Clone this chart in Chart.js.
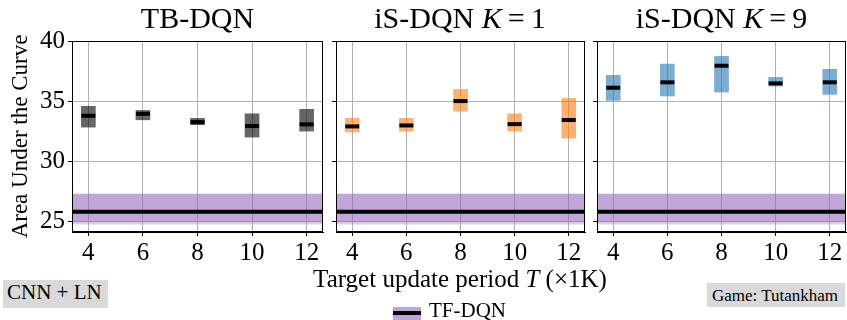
<!DOCTYPE html>
<html><head><meta charset="utf-8">
<script src="https://cdn.jsdelivr.net/npm/chart.js@4/dist/chart.umd.min.js"></script>
<style>
html,body{margin:0;padding:0;background:#fff;width:847px;height:320px;overflow:hidden;font-family:"Liberation Serif","Times New Roman",serif;color:#000;}
.panel{position:absolute;top:0;height:270px;}
.ttl{position:absolute;top:3px;font-size:30px;line-height:30px;white-space:nowrap;transform:translateX(-50%);}
.xl{position:absolute;left:460px;top:266px;font-size:25px;line-height:25px;white-space:nowrap;transform:translateX(-50%);}
.box{position:absolute;background:#d9d9d9;}
.box span{position:absolute;white-space:nowrap;}
</style></head><body>
<div class="panel" style="left:0;width:326px"><canvas id="c1"></canvas></div>
<div class="panel" style="left:329px;width:259px"><canvas id="c2"></canvas></div>
<div class="panel" style="left:590px;width:257px"><canvas id="c3"></canvas></div>
<div class="ttl" style="left:197.5px">TB-DQN</div>
<div class="ttl" style="left:460px">iS-DQN <i>K</i>&#8201;=&#8201;1</div>
<div class="ttl" style="left:721.5px">iS-DQN <i>K</i>&#8201;=&#8201;9</div>
<div class="xl">Target update period <i>T</i> (×1K)</div>
<div style="position:absolute;left:393px;top:307px;width:28px;height:13px;background:#bfa4d7;"><div style="position:absolute;left:0;top:3.7px;width:28px;height:4px;background:#000;"></div></div>
<div style="position:absolute;left:429px;top:299.5px;font-size:21px;line-height:21px;white-space:nowrap;">TF-DQN</div>
<div class="box" style="left:3px;top:280px;width:105px;height:28px;"><span style="left:4px;top:1.5px;font-size:21px;line-height:21px;">CNN + LN</span></div>
<div class="box" style="left:707px;top:283px;width:138px;height:24px;"><span style="left:5px;top:3.8px;font-size:17px;line-height:17px;">Game: Tutankham</span></div>
<script>
// ---- data ----
const categories = [4, 6, 8, 10, 12];
const xTicks = [4, 6, 8, 10, 12];
const yTicks = [25, 30, 35, 40];
const xMin = 3.4, xMax = 12.6, yMin = 24.1, yMax = 40;

const tbLow  = [32.83, 33.44, 33.03, 32.00, 32.50];
const tbHigh = [34.56, 34.22, 33.56, 33.94, 34.31];
const tbMed  = [33.78, 33.94, 33.25, 32.92, 33.06];

const k1Low  = [32.42, 32.50, 34.17, 32.50, 31.92];
const k1High = [33.56, 33.56, 35.97, 33.94, 35.22];
const k1Med  = [32.89, 32.97, 35.00, 33.08, 33.42];

const k9Low  = [35.06, 35.42, 35.75, 36.25, 35.56];
const k9High = [37.14, 38.08, 38.72, 36.97, 37.64];
const k9Med  = [36.11, 36.56, 37.94, 36.47, 36.56];

const tfMean = 25.78;
const tfHigh = 27.28;
const tfLowInner = 24.95;
const tfLow = 24.72;

const FONT = "'Liberation Serif', 'Times New Roman', serif";

const framePlugin = {
  id: 'frame',
  afterDatasetsDraw(chart) {
    const a = chart.chartArea, ctx = chart.ctx;
    ctx.save();
    ctx.strokeStyle = '#000';
    ctx.lineWidth = 1;
    const l = Math.round(a.left) + 0.5, t = Math.round(a.top) + 0.5;
    const r = Math.round(a.right) - 0.5, b = Math.round(a.bottom) - 0.5;
    ctx.strokeRect(l, t, r - l, b - t);
    ctx.restore();
  }
};

function makePanel(id, low, high, med, color, first, padRight) {
  const hLine = (y) => [{x: xMin, y}, {x: xMax, y}];
  new Chart(document.getElementById(id), {
    type: 'bar',
    data: {
      datasets: [
        { type: 'line', data: categories.map((x, i) => ({x, y: med[i]})), showLine: false,
          pointStyle: 'line', pointRadius: 7, pointHoverRadius: 7, borderColor: '#000',
          borderWidth: 4, pointBorderColor: '#000', pointBorderWidth: 4 },
        { type: 'bar', data: categories.map((x, i) => ({x, y: [low[i], high[i]]})),
          backgroundColor: color, borderWidth: 0, barThickness: 14 },
        { type: 'line', data: hLine(tfMean), borderColor: '#000', borderWidth: 4,
          pointRadius: 0, fill: false },
        { type: 'line', data: hLine(tfHigh), borderColor: 'transparent', borderWidth: 0,
          pointRadius: 0, fill: {value: tfLowInner}, backgroundColor: 'rgba(148,103,189,0.36)' },
        { type: 'line', data: hLine(tfHigh), borderColor: 'transparent', borderWidth: 0,
          pointRadius: 0, fill: {value: tfLow}, backgroundColor: 'rgba(148,103,189,0.34)' }
      ]
    },
    options: {
      responsive: true, maintainAspectRatio: false, animation: false, events: [],
      layout: { autoPadding: false, padding: { top: 41, right: padRight, bottom: 8, left: 0 } },
      plugins: { legend: { display: false }, tooltip: { enabled: false } },
      scales: {
        x: {
          type: 'linear', min: xMin, max: xMax, offset: false,
          afterBuildTicks: s => { s.ticks = xTicks.map(v => ({value: v})); },
          afterFit: s => { s.height = 30; },
          grid: { color: '#b0b0b0', lineWidth: 1, tickColor: '#000', tickLength: 4, offset: false },
          border: { display: true, color: '#000', width: 1 },
          ticks: { font: { family: FONT, size: 25 }, color: '#000', padding: 2, maxRotation: 0, autoSkip: false }
        },
        y: {
          type: 'linear', min: yMin, max: yMax,
          afterBuildTicks: s => { s.ticks = yTicks.map(v => ({value: v})); },
          afterFit: s => { s.width = first ? 72 : 7; },
          grid: { color: '#b0b0b0', lineWidth: 1, tickColor: '#000', tickLength: 4 },
          border: { display: true, color: '#000', width: 1 },
          ticks: { display: first, font: { family: FONT, size: 25 }, color: '#000', padding: 3 },
          title: { display: first, text: 'Area Under the Curve', color: '#000',
                   font: { family: FONT, size: 23 }, padding: { top: 7, bottom: 0 } }
        }
      }
    },
    plugins: [framePlugin]
  });
}

makePanel('c1', tbLow, tbHigh, tbMed, 'rgba(0,0,0,0.6)', true, 3);
makePanel('c2', k1Low, k1High, k1Med, 'rgba(255,127,14,0.6)', false, 3);
makePanel('c3', k9Low, k9High, k9Med, 'rgba(31,119,180,0.6)', false, 1);
</script>
</body></html>
